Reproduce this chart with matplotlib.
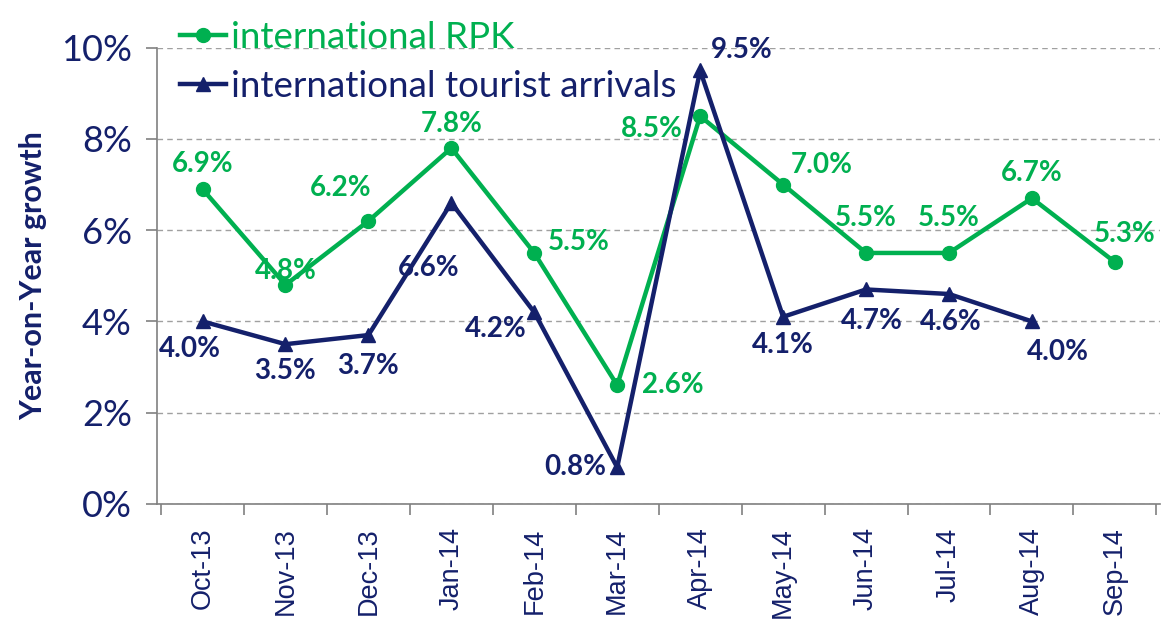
import matplotlib.pyplot as plt
from matplotlib.ticker import FuncFormatter, FixedLocator

# data
months = ["Oct-13", "Nov-13", "Dec-13", "Jan-14", "Feb-14", "Mar-14",
          "Apr-14", "May-14", "Jun-14", "Jul-14", "Aug-14", "Sep-14"]
rpk = [6.9, 4.8, 6.2, 7.8, 5.5, 2.6, 8.5, 7.0, 5.5, 5.5, 6.7, 5.3]
arrivals = [4.0, 3.5, 3.7, 6.6, 4.2, 0.8, 9.5, 4.1, 4.7, 4.6, 4.0]

# label offsets in points (placement only)
rpk_offsets = [(0, 18), (0, 10), (-20, 24), (0, 17), (32, 8), (40, 0),
               (-35, -9), (28, 14), (0, 25), (0, 25), (0, 18), (7, 20)]
arr_offsets = [(-9, -20), (0, -19), (0, -22), (-16, -47), (-28, -12), (-30, 0),
               (30, 15), (0, -20), (4, -23), (1, -20), (19, -22)]

GREEN = "#00B050"
NAVY = "#14206B"
FONT = "Lato"

fig = plt.figure(figsize=(11.71, 6.19), dpi=100)
ax = fig.add_axes([0.134, 0.186, 0.857, 0.737])

x = list(range(len(months)))
l1, = ax.plot(x, rpk, color=GREEN, lw=3.2, marker="o", ms=10,
              label="international RPK", zorder=3)
l2, = ax.plot(x[:len(arrivals)], arrivals, color=NAVY, lw=3.2, marker="^", ms=10,
              label="international tourist arrivals", zorder=4)

for xi, v, off in zip(x, rpk, rpk_offsets):
    ax.annotate(f"{v:.1f}%", (xi, v), xytext=off, textcoords="offset points",
                ha="center", va="center", color=GREEN, fontsize=20,
                fontweight="bold", family=FONT, zorder=5)
for xi, v, off in zip(x, arrivals, arr_offsets):
    ax.annotate(f"{v:.1f}%", (xi, v), xytext=off, textcoords="offset points",
                ha="center", va="center", color=NAVY, fontsize=20,
                fontweight="bold", family=FONT, zorder=5)

ax.set_xlim(-0.55, len(months) - 0.45)
ax.set_ylim(0, 10)
ax.set_yticks(range(0, 11, 2))
ax.yaxis.set_major_formatter(FuncFormatter(lambda v, p: f"{v:.0f}%"))
ax.yaxis.grid(True, color="#A0A0A0", ls=(0, (4, 3)), lw=1)
ax.set_axisbelow(True)

# category ticks sit on the boundaries, labels at centres
ax.xaxis.set_major_locator(FixedLocator([i - 0.5 for i in range(len(months) + 1)]))
ax.xaxis.set_major_formatter(FuncFormatter(lambda v, p: ""))
ax.xaxis.set_minor_locator(FixedLocator(x))
ax.set_xticklabels(months, minor=True, rotation=90, fontsize=19.5,
                   family="Liberation Sans", color=NAVY)
ax.tick_params(axis="x", which="major", length=8, color="#808080", width=1.2)
ax.tick_params(axis="x", which="minor", length=0, pad=17)
ax.tick_params(axis="y", length=8, color="#808080", width=1.2, labelsize=26,
               labelcolor=NAVY, pad=10)
for lab in ax.get_yticklabels():
    lab.set_family(FONT)

for s in ["top", "right"]:
    ax.spines[s].set_visible(False)
for s in ["left", "bottom"]:
    ax.spines[s].set_color("#808080")
    ax.spines[s].set_linewidth(1.2)

ax.set_ylabel("Year-on-Year growth", fontsize=22, fontweight="bold",
              color=NAVY, family=FONT, labelpad=10)

leg = fig.legend(handles=[l1, l2], loc="upper left",
                 bbox_to_anchor=(0.125, 1.02), frameon=False,
                 handlelength=1.25, labelspacing=0.45, handletextpad=0.15,
                 prop={"family": FONT, "size": 26.5})
for t, c in zip(leg.get_texts(), [GREEN, NAVY]):
    t.set_color(c)

fig.savefig("out.png", dpi=100)
